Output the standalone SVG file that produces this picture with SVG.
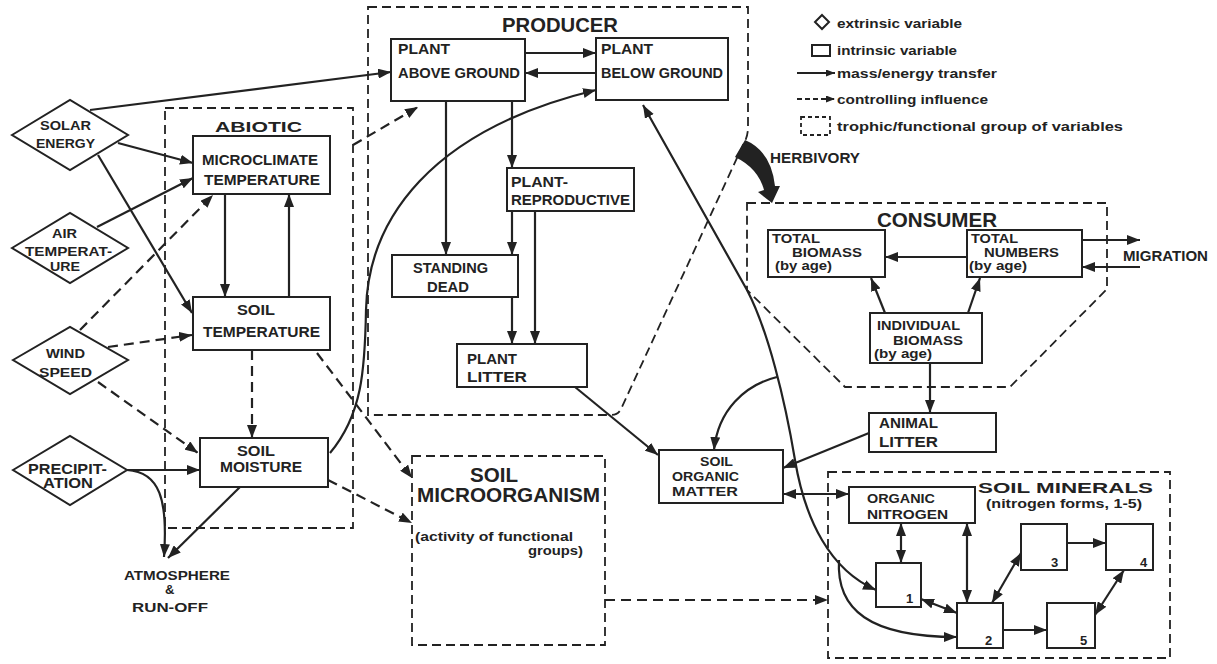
<svg xmlns="http://www.w3.org/2000/svg" width="1217" height="664" viewBox="0 0 1217 664">
<style>
.bg{fill:#fff}
.box{fill:#fff;stroke:#222;stroke-width:2}
.dia{fill:#fff;stroke:#222;stroke-width:2}
.grp{fill:none;stroke:#222;stroke-width:1.8;stroke-dasharray:9 5}
.ln{fill:none;stroke:#222;stroke-width:2.2}
.ds{stroke-dasharray:10 6}
.t{font-family:"Liberation Sans",Arial,sans-serif;font-weight:bold;fill:#222;font-size:14px}
.s{font-size:13px}
.h{font-size:20px}
.lg{font-size:13px}
</style>
<defs>
<marker id="a" markerUnits="userSpaceOnUse" markerWidth="13" markerHeight="10" refX="13" refY="5" orient="auto-start-reverse" viewBox="0 0 13 10">
<path d="M0,0 L13,5 L0,10 z" fill="#222"/>
</marker>
<marker id="m" markerUnits="userSpaceOnUse" markerWidth="9" markerHeight="7" refX="9" refY="3.5" orient="auto" viewBox="0 0 9 7">
<path d="M0,0 L9,3.5 L0,7 z" fill="#222"/>
</marker>
</defs>
<rect class="bg" x="0" y="0" width="1217" height="664"/>

<g id="groups">
<rect id="abiotic-group" class="grp" x="165" y="108" width="188" height="420"/>
<path id="producer-group" class="grp" d="M368,7 L748,7 L748,127 Q748,137 743,145 L621,409 Q618,415 611,415 L368,415 Z"/>
<path id="consumer-group" class="grp" d="M747,203 L1107,203 L1107,289 L1010,387 L845,387 L747,290 Z"/>
<rect id="microorganism-group" class="grp" x="412" y="456" width="193" height="189"/>
<rect id="minerals-group" class="grp" x="828" y="472" width="342" height="186"/>
<text class="t" x="215" y="132" font-size="22" textLength="87" lengthAdjust="spacingAndGlyphs">ABIOTIC</text>
<text class="t h" x="502" y="32" textLength="116" lengthAdjust="spacingAndGlyphs">PRODUCER</text>
<text class="t h" x="877" y="227" textLength="120" lengthAdjust="spacingAndGlyphs">CONSUMER</text>
<text class="t h" x="470" y="482" textLength="48" lengthAdjust="spacingAndGlyphs">SOIL</text>
<text class="t h" x="417" y="502" textLength="183" lengthAdjust="spacingAndGlyphs">MICROORGANISM</text>
<text class="t s" x="415" y="541" textLength="158" lengthAdjust="spacingAndGlyphs">(activity of functional</text>
<text class="t s" x="528" y="555" textLength="55" lengthAdjust="spacingAndGlyphs">groups)</text>
<text class="t" x="978" y="493" font-size="22" textLength="175" lengthAdjust="spacingAndGlyphs">SOIL MINERALS</text>
<text class="t s" x="986" y="508" textLength="156" lengthAdjust="spacingAndGlyphs">(nitrogen forms, 1-5)</text>
</g>

<g id="connectors">
<path class="ln" marker-end="url(#a)" d="M90,110 L391,72"/>
<path class="ln" marker-end="url(#a)" d="M118,143 L193,163"/>
<path class="ln" marker-end="url(#a)" d="M98,155 L192,313"/>
<path class="ln" marker-end="url(#a)" d="M97,227 L193,178"/>
<path class="ln ds" marker-end="url(#a)" d="M80,330 L213,195"/>
<path class="ln ds" marker-end="url(#a)" d="M108,347 L192,335"/>
<path class="ln ds" marker-end="url(#a)" d="M98,382 L198,453"/>
<path class="ln" marker-end="url(#a)" d="M127,470 L200,470"/>
<path class="ln" marker-end="url(#a)" d="M127,470 C160,472 168,500 164,557"/>
<path class="ln" marker-end="url(#a)" d="M240,487 L168,558"/>
<path class="ln" marker-end="url(#a)" d="M225,194 L225,297"/>
<path class="ln" marker-end="url(#a)" d="M289,297 L289,194"/>
<path class="ln ds" marker-end="url(#a)" d="M252,350 L252,438"/>
<path class="ln ds" marker-end="url(#a)" d="M317,353 L412,478"/>
<path class="ln ds" marker-end="url(#a)" d="M328,480 L412,523"/>
<path class="ln" marker-end="url(#a)" d="M330,453 C362,415 365,370 366,310 C368,220 430,130 596,90"/>
<path class="ln ds" marker-end="url(#a)" d="M353,145 L418,107"/>
<path class="ln" marker-end="url(#a)" d="M525,53 L596,53"/>
<path class="ln" marker-end="url(#a)" d="M596,73 L525,73"/>
<path class="ln" marker-end="url(#a)" d="M446,101 L446,255"/>
<path class="ln" marker-end="url(#a)" d="M512,101 L512,168"/>
<path class="ln" marker-end="url(#a)" d="M512,211 L512,255"/>
<path class="ln" marker-end="url(#a)" d="M535,211 L535,344"/>
<path class="ln" marker-end="url(#a)" d="M512,297 L512,344"/>
<path class="ln" marker-end="url(#a)" d="M575,387 L658,455"/>
<path class="ln" marker-start="url(#a)" marker-end="url(#a)" d="M643,105 L747,290 C768,330 785,400 795,460 C805,520 830,570 876,590"/>
<path class="ln" marker-end="url(#a)" d="M777,377 C745,385 718,410 714,450"/>
<path class="ln" marker-end="url(#a)" d="M839,560 C836,610 870,637 957,637"/>
<path class="ln" marker-end="url(#a)" d="M869,433 L783,468"/>
<path class="ln" marker-start="url(#a)" marker-end="url(#a)" d="M783,494 L849,494"/>
<path class="ln" marker-end="url(#a)" d="M930,363 L930,413"/>
<path class="ln" marker-end="url(#a)" d="M885,313 L871,278"/>
<path class="ln" marker-end="url(#a)" d="M968,313 L980,278"/>
<path class="ln" marker-end="url(#a)" d="M967,257 L885,257"/>
<path class="ln" marker-end="url(#a)" d="M1082,240 L1140,240"/>
<path class="ln" marker-end="url(#a)" d="M1140,267 L1082,267"/>
<path id="herbivory" fill="#222" d="M745,140 Q771,151 775,186 L780,186 L772,203 L758,192 L764,190 Q758,168 735,157 Z"/>
<path class="ln ds" marker-end="url(#a)" d="M605,600 L828,600"/>
<path class="ln" marker-start="url(#a)" marker-end="url(#a)" d="M901,523 L901,563"/>
<path class="ln" marker-start="url(#a)" marker-end="url(#a)" d="M967,523 L967,603"/>
<path class="ln" marker-start="url(#a)" marker-end="url(#a)" d="M921,599 L957,613"/>
<path class="ln" marker-start="url(#a)" marker-end="url(#a)" d="M992,603 L1021,553"/>
<path class="ln" marker-end="url(#a)" d="M1067,543 L1106,543"/>
<path class="ln" marker-end="url(#a)" d="M1003,630 L1047,630"/>
<path class="ln" marker-start="url(#a)" marker-end="url(#a)" d="M1095,615 L1124,570"/>
</g>

<g id="solar-energy">
<polygon class="dia" points="12,135 70,100 128,135 70,170"/>
<text class="t s" x="40" y="130" textLength="51" lengthAdjust="spacingAndGlyphs">SOLAR</text>
<text class="t s" x="36" y="148" textLength="59" lengthAdjust="spacingAndGlyphs">ENERGY</text>
</g>
<g id="air-temperature">
<polygon class="dia" points="12,248 70,213 128,248 70,283"/>
<text class="t s" x="52" y="238" textLength="25" lengthAdjust="spacingAndGlyphs">AIR</text>
<text class="t s" x="25" y="256" textLength="87" lengthAdjust="spacingAndGlyphs">TEMPERAT-</text>
<text class="t s" x="50" y="271" textLength="30" lengthAdjust="spacingAndGlyphs">URE</text>
</g>
<g id="wind-speed">
<polygon class="dia" points="13,360 70,327 128,360 70,394"/>
<text class="t s" x="46" y="358" textLength="39" lengthAdjust="spacingAndGlyphs">WIND</text>
<text class="t s" x="39" y="377" textLength="53" lengthAdjust="spacingAndGlyphs">SPEED</text>
</g>
<g id="precipitation">
<polygon class="dia" points="13,470 70,436 127,470 70,505"/>
<text class="t" x="28" y="474" font-size="12" textLength="79" lengthAdjust="spacingAndGlyphs">PRECIPIT-</text>
<text class="t" x="43" y="488" font-size="12" textLength="50" lengthAdjust="spacingAndGlyphs">ATION</text>
</g>

<g id="microclimate-temperature">
<rect class="box" x="193" y="136" width="137" height="58"/>
<text class="t" x="202" y="165" textLength="116" lengthAdjust="spacingAndGlyphs">MICROCLIMATE</text>
<text class="t" x="204" y="185" textLength="116" lengthAdjust="spacingAndGlyphs">TEMPERATURE</text>
</g>
<g id="soil-temperature">
<rect class="box" x="193" y="297" width="137" height="53"/>
<text class="t" x="237" y="315" textLength="38" lengthAdjust="spacingAndGlyphs">SOIL</text>
<text class="t" x="203" y="337" textLength="117" lengthAdjust="spacingAndGlyphs">TEMPERATURE</text>
</g>
<g id="soil-moisture">
<rect class="box" x="200" y="438" width="128" height="49"/>
<text class="t" x="237" y="456" textLength="38" lengthAdjust="spacingAndGlyphs">SOIL</text>
<text class="t" x="220" y="472" textLength="82" lengthAdjust="spacingAndGlyphs">MOISTURE</text>
</g>
<g id="atmosphere-runoff">
<text class="t s" x="124" y="580" textLength="106" lengthAdjust="spacingAndGlyphs">ATMOSPHERE</text>
<text class="t s" x="165" y="594">&amp;</text>
<text class="t s" x="132" y="612" textLength="76" lengthAdjust="spacingAndGlyphs">RUN-OFF</text>
</g>

<g id="plant-above-ground">
<rect class="box" x="391" y="39" width="134" height="62"/>
<text class="t" x="398" y="54" textLength="52" lengthAdjust="spacingAndGlyphs">PLANT</text>
<text class="t" x="398" y="78" textLength="122" lengthAdjust="spacingAndGlyphs">ABOVE GROUND</text>
</g>
<g id="plant-below-ground">
<rect class="box" x="596" y="38" width="132" height="62"/>
<text class="t" x="601" y="54" textLength="52" lengthAdjust="spacingAndGlyphs">PLANT</text>
<text class="t" x="601" y="78" textLength="122" lengthAdjust="spacingAndGlyphs">BELOW GROUND</text>
</g>
<g id="plant-reproductive">
<rect class="box" x="507" y="168" width="127" height="43"/>
<text class="t" x="511" y="187" textLength="57" lengthAdjust="spacingAndGlyphs">PLANT-</text>
<text class="t" x="511" y="205" textLength="119" lengthAdjust="spacingAndGlyphs">REPRODUCTIVE</text>
</g>
<g id="standing-dead">
<rect class="box" x="392" y="255" width="126" height="42"/>
<text class="t" x="413" y="273" textLength="75" lengthAdjust="spacingAndGlyphs">STANDING</text>
<text class="t" x="427" y="292" textLength="42" lengthAdjust="spacingAndGlyphs">DEAD</text>
</g>
<g id="plant-litter">
<rect class="box" x="457" y="344" width="130" height="43"/>
<text class="t" x="467" y="364" textLength="50" lengthAdjust="spacingAndGlyphs">PLANT</text>
<text class="t" x="467" y="382" textLength="60" lengthAdjust="spacingAndGlyphs">LITTER</text>
</g>

<g id="legend">
<polygon points="822,15 829,22 822,29 815,22" fill="none" stroke="#222" stroke-width="2"/>
<text class="t lg" x="837" y="28" textLength="125" lengthAdjust="spacingAndGlyphs">extrinsic variable</text>
<rect x="812" y="45" width="18" height="11" fill="none" stroke="#222" stroke-width="2"/>
<text class="t lg" x="837" y="55" textLength="120" lengthAdjust="spacingAndGlyphs">intrinsic variable</text>
<path d="M797,73 L835,73" stroke="#222" stroke-width="2" marker-end="url(#m)"/>
<text class="t lg" x="837" y="78" textLength="160" lengthAdjust="spacingAndGlyphs">mass/energy transfer</text>
<path d="M797,99 L835,99" stroke="#222" stroke-width="2" stroke-dasharray="5 3" marker-end="url(#m)"/>
<text class="t lg" x="837" y="104" textLength="151" lengthAdjust="spacingAndGlyphs">controlling influence</text>
<rect x="801" y="117" width="29" height="18" fill="none" stroke="#222" stroke-width="1.8" stroke-dasharray="4 3"/>
<text class="t lg" x="837" y="131" textLength="286" lengthAdjust="spacingAndGlyphs">trophic/functional group of variables</text>
</g>

<g id="herbivory-label">
<text class="t" x="770" y="163" textLength="90" lengthAdjust="spacingAndGlyphs">HERBIVORY</text>
</g>

<g id="total-biomass">
<rect class="box" x="768" y="230" width="117" height="47"/>
<text class="t s" x="772" y="243" textLength="48" lengthAdjust="spacingAndGlyphs">TOTAL</text>
<text class="t s" x="792" y="257" textLength="70" lengthAdjust="spacingAndGlyphs">BIOMASS</text>
<text class="t s" x="775" y="270" textLength="57" lengthAdjust="spacingAndGlyphs">(by age)</text>
</g>
<g id="total-numbers">
<rect class="box" x="967" y="230" width="115" height="47"/>
<text class="t s" x="971" y="243" textLength="47" lengthAdjust="spacingAndGlyphs">TOTAL</text>
<text class="t s" x="984" y="257" textLength="75" lengthAdjust="spacingAndGlyphs">NUMBERS</text>
<text class="t s" x="969" y="270" textLength="58" lengthAdjust="spacingAndGlyphs">(by age)</text>
</g>
<g id="migration">
<text class="t" x="1123" y="261" textLength="85" lengthAdjust="spacingAndGlyphs">MIGRATION</text>
</g>
<g id="individual-biomass">
<rect class="box" x="870" y="313" width="112" height="50"/>
<text class="t s" x="877" y="330" textLength="83" lengthAdjust="spacingAndGlyphs">INDIVIDUAL</text>
<text class="t s" x="893" y="345" textLength="70" lengthAdjust="spacingAndGlyphs">BIOMASS</text>
<text class="t s" x="874" y="358" textLength="58" lengthAdjust="spacingAndGlyphs">(by age)</text>
</g>
<g id="animal-litter">
<rect class="box" x="869" y="413" width="127" height="39"/>
<text class="t" x="879" y="428" textLength="59" lengthAdjust="spacingAndGlyphs">ANIMAL</text>
<text class="t" x="879" y="447" textLength="59" lengthAdjust="spacingAndGlyphs">LITTER</text>
</g>
<g id="soil-organic-matter">
<rect class="box" x="659" y="450" width="124" height="53"/>
<text class="t s" x="700" y="466" textLength="33" lengthAdjust="spacingAndGlyphs">SOIL</text>
<text class="t s" x="672" y="481" textLength="67" lengthAdjust="spacingAndGlyphs">ORGANIC</text>
<text class="t s" x="672" y="496" textLength="66" lengthAdjust="spacingAndGlyphs">MATTER</text>
</g>
<g id="organic-nitrogen">
<rect class="box" x="849" y="487" width="126" height="36"/>
<text class="t s" x="867" y="503" textLength="68" lengthAdjust="spacingAndGlyphs">ORGANIC</text>
<text class="t s" x="867" y="519" textLength="81" lengthAdjust="spacingAndGlyphs">NITROGEN</text>
</g>
<g id="n1">
<rect class="box" x="876" y="563" width="45" height="44"/>
<text class="t s" x="906" y="603">1</text>
</g>
<g id="n2">
<rect class="box" x="957" y="603" width="46" height="45"/>
<text class="t s" x="985" y="645">2</text>
</g>
<g id="n3">
<rect class="box" x="1021" y="524" width="46" height="46"/>
<text class="t s" x="1051" y="567">3</text>
</g>
<g id="n4">
<rect class="box" x="1106" y="524" width="47" height="46"/>
<text class="t s" x="1140" y="567">4</text>
</g>
<g id="n5">
<rect class="box" x="1047" y="603" width="48" height="45"/>
<text class="t s" x="1080" y="645">5</text>
</g>
</svg>
